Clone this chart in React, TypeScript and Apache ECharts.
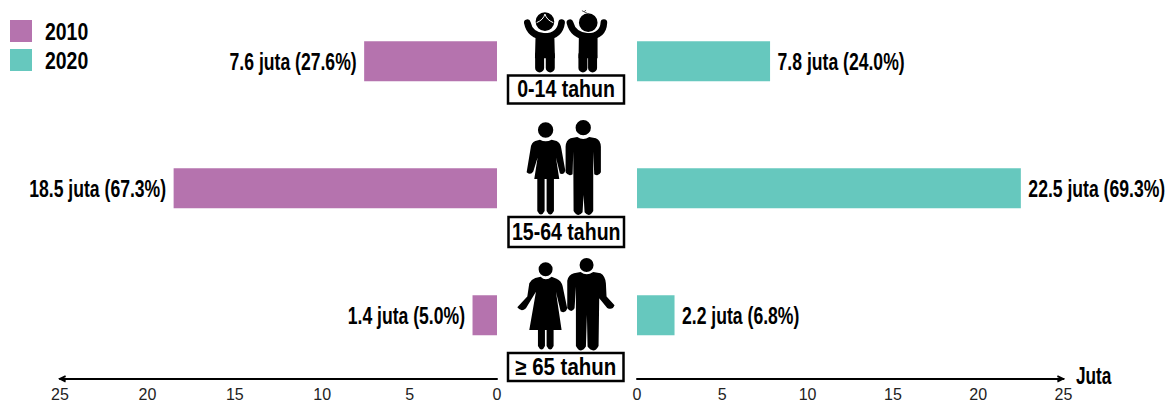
import React, { useEffect, useRef } from "react";
import * as echarts from "echarts";

const ageGroups = ["0-14 tahun", "15-64 tahun", "≥ 65 tahun"];
const years = ["2010", "2020"];
const values2010 = [7.6, 18.5, 1.4];
const values2020 = [7.8, 22.5, 2.2];
const shares2010 = [27.6, 67.3, 5.0];
const shares2020 = [24.0, 69.3, 6.8];
const unitName = "Juta";
const tickStep = 5;
const axisMax = 25;

const PURPLE = "#B573AE";
const TEAL = "#66C8BE";
const SANS = '"Liberation Sans", Arial, sans-serif';
const CHEVRON = "path://M0,10 L5,0 L10,10 L7.5,11 L5,6 L2.5,11 Z";

const circle = (cx: number, cy: number, r: number) =>
  `M${cx - r},${cy} A${r},${r} 0 1 1 ${cx + r},${cy} A${r},${r} 0 1 1 ${cx - r},${cy} Z`;

const figures: Record<string, string> = {
  kidFill:
    circle(165, 65, 28) + " M137,100 L193,100 L195,175 L135,175 Z " +
    circle(295, 68, 28) + " M267,100 L323,100 L323,175 L266,175 Z",
  kidArms:
    "M112,68 Q120,108 165,110 Q210,108 215,68 M240,68 Q250,108 295,110 Q340,108 342,68",
  kidLegs: "M149,165 L149,204 M181,165 L181,204 M279,165 L279,204 M308,165 L308,204",
  adultFill:
    circle(167, 45, 23) + " " + circle(280, 38, 23) +
    " M150,74 Q167,84 185,74 L200,78 Q212,84 214,100 L226,166 Q224,180 210,176 L198,128 L208,192 L133,192 L143,128 L130,170 Q122,182 110,172 L122,100 Q124,82 136,78 Z" +
    " M262,66 Q280,78 298,66 L318,70 Q332,76 333,95 L333,172 Q326,186 313,178 L310,110 L310,240 L310,288 Q298,310 284,292 L281,240 L278,292 Q264,310 251,288 L250,110 L248,178 Q236,186 227,172 L227,95 Q228,76 242,70 Z" +
    " M142,190 L164,190 L164,288 Q153,310 142,288 Z M170,190 L192,190 L192,288 Q181,310 170,288 Z",
  elderFill:
    circle(167, 58, 21) + " " + circle(290, 45, 21) +
    " M152,80 Q167,96 185,80 L200,86 Q214,92 218,108 L232,176 Q226,192 212,184 L198,125 L215,240 L118,240 L138,125 L108,175 Q94,188 82,172 L112,140 L118,100 Q124,88 136,84 Z" +
    " M272,66 Q290,80 310,66 L332,70 Q346,78 348,100 L350,140 L374,166 Q368,182 352,174 L328,145 L326,288 Q312,314 293,290 L291,195 L288,290 Q272,314 258,288 L258,110 L254,175 Q244,192 232,174 L232,92 Q236,74 252,70 Z" +
    " M144,238 L165,238 L165,288 Q155,310 144,288 Z M170,238 L191,238 L191,288 Q181,310 170,288 Z",
  kidHair: "M140,68 Q160,60 165,42 Q170,60 190,68",
  kidTuft: "M276,32 L296,42 M282,36 L288,30",
};
Object.keys(figures).forEach((k) => {
  echarts.graphic.registerShape(k, echarts.graphic.extendPath(figures[k], {}) as any);
});

const icon = (type: string, x: number, y: number, style: any) => ({
  type, x, y, scaleX: 1 / 3, scaleY: 1 / 3, silent: true, style,
});

const squeezed = (text: string, x: number, y: number, size: number, scaleX: number, align = "left") => ({
  type: "text", silent: true, x, y, scaleX,
  style: { text, fill: "#000", align, verticalAlign: "middle", font: `bold ${size}px ${SANS}` },
});

const boxes = [
  { x: 508, y: 75.5, w: 116, h: 28, cy: 89.5, sx: 0.85 },
  { x: 508.5, y: 217, w: 115.5, h: 30, cy: 232, sx: 0.85 },
  { x: 508, y: 353, w: 115.5, h: 28, cy: 367, sx: 0.89 },
];
const legendRows = [20, 49];

const valueAxis = (gridIndex: number, inverse: boolean) => ({
  type: "value",
  gridIndex,
  inverse,
  min: 0,
  max: axisMax,
  interval: tickStep,
  splitLine: { show: false },
  axisTick: { show: false },
  axisLine: {
    show: true,
    symbol: inverse ? [CHEVRON, "none"] : ["none", CHEVRON],
    symbolSize: [9, 8],
    symbolOffset: inverse ? [2, 0] : [0, -2.5],
    lineStyle: { color: "#000", width: 2 },
  },
  axisLabel: {
    show: true,
    color: "#222",
    fontFamily: SANS,
    fontSize: 16,
    margin: 8,
    hideOverlap: false,
  },
});

const catAxis = (gridIndex: number) => ({
  type: "category",
  gridIndex,
  data: ageGroups,
  inverse: true,
  show: false,
});

const labelSeries = (axis: number, values: number[], shares: number[], side: number) => ({
  type: "custom",
  coordinateSystem: "cartesian2d",
  xAxisIndex: axis,
  yAxisIndex: axis,
  silent: true,
  clip: false,
  encode: { x: 0, y: 1 },
  data: values.map((v, i) => [v, i]),
  renderItem: (params: any, api: any) => {
    const v = api.value(0);
    const i = api.value(1);
    const pt = api.coord([v, i]);
    return {
      type: "text",
      x: pt[0] + side * 7.5,
      y: pt[1],
      scaleX: 0.765,
      style: {
        text: `${v.toFixed(1)} juta (${shares[i].toFixed(1)}%)`,
        fill: "#000",
        align: side < 0 ? "right" : "left",
        verticalAlign: "middle",
        font: `bold 23px ${SANS}`,
      },
    };
  },
});

export default function App() {
  const ref = useRef<HTMLDivElement>(null);
  useEffect(() => {
    const chart = echarts.init(ref.current!, undefined, { renderer: "svg" });
    chart.setOption({
      animation: false,
      backgroundColor: "#fff",
      grid: [
        { left: 60, width: 437, top: -2.2, height: 381, outerBoundsMode: "none" },
        { left: 637, width: 426.5, top: -2.2, height: 381, outerBoundsMode: "none" },
      ],
      xAxis: [valueAxis(0, true), valueAxis(1, false)],
      yAxis: [catAxis(0), catAxis(1)],
      series: [
        { name: years[0], type: "bar", xAxisIndex: 0, yAxisIndex: 0, data: values2010, barWidth: 40, itemStyle: { color: PURPLE } },
        { name: years[1], type: "bar", xAxisIndex: 1, yAxisIndex: 1, data: values2020, barWidth: 40, itemStyle: { color: TEAL } },
        labelSeries(0, values2010, shares2010, -1),
        labelSeries(1, values2020, shares2020, 1),
      ],
      graphic: [
        ...years.flatMap((y, i) => [
          {
            type: "rect", silent: true,
            shape: { x: 10, y: legendRows[i], width: 22, height: 22 },
            style: { fill: i === 0 ? PURPLE : TEAL },
          },
          squeezed(y, 45, legendRows[i] + 12, 24, 0.81),
        ]),
        squeezed(unitName, 1076, 376, 23, 0.75),
        icon("kidFill", 490, 0, { fill: "#000" }),
        icon("kidArms", 490, 0, { fill: "none", stroke: "#000", lineWidth: 20, lineCap: "round" }),
        icon("kidLegs", 490, 0, { fill: "none", stroke: "#000", lineWidth: 27, lineCap: "round" }),
        icon("kidHair", 490, 0, { fill: "none", stroke: "#fff", lineWidth: 3 }),
        icon("kidTuft", 490, 0, { fill: "none", stroke: "#555", lineWidth: 3 }),
        icon("adultFill", 490, 115, { fill: "#000" }),
        icon("elderFill", 490, 250, { fill: "#000" }),
        ...boxes.flatMap((b, i) => [
          {
            type: "rect", silent: true,
            shape: { x: b.x, y: b.y, width: b.w, height: b.h },
            style: { fill: "#fff", stroke: "#000", lineWidth: 2.5 },
          },
          squeezed(ageGroups[i], b.x + b.w / 2, b.cy, 23, b.sx, "center"),
        ]),
      ],
    });
    return () => chart.dispose();
  }, []);
  return <div ref={ref} style={{ position: "fixed", left: 0, top: 0, width: 1173, height: 403 }} />;
}
